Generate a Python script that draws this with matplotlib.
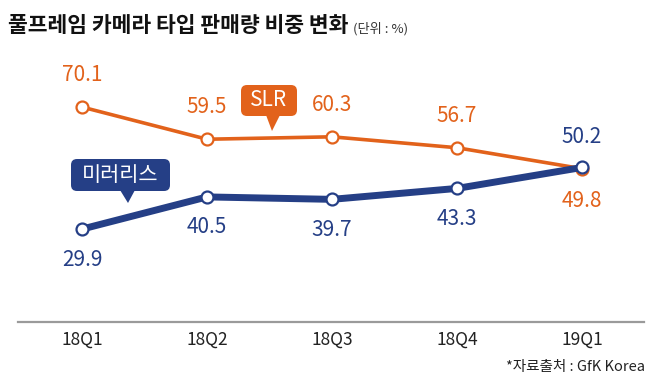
import matplotlib
import matplotlib.pyplot as plt
from matplotlib.patches import FancyBboxPatch, Polygon

matplotlib.use("Agg")

plt.rcParams["font.family"] = ["Noto Sans CJK KR", "DejaVu Sans"]

QUARTERS = ["18Q1", "18Q2", "18Q3", "18Q4", "19Q1"]
SLR = [70.1, 59.5, 60.3, 56.7, 49.8]
MIRRORLESS = [29.9, 40.5, 39.7, 43.3, 50.2]
# label above (+1) or below (-1) the point
SLR_POS = [1, 1, 1, 1, -1]
MIRRORLESS_POS = [-1, -1, -1, -1, 1]

ORANGE = "#E2621B"
NAVY = "#253F86"

W, H, DPI = 652, 388, 100
fig = plt.figure(figsize=(W / DPI, H / DPI), dpi=DPI)

# axes: x from px 18 to 644, y from px 322 (bottom) to 60
ax = fig.add_axes([18 / W, 1 - 322 / H, (644 - 18) / W, (322 - 60) / H])
x = list(range(len(QUARTERS)))
ax.set_xlim(-64 / 125, 4 + 62 / 125)
ax.set_ylim(-0.7, 85.6)

ax.plot(x, SLR, color=ORANGE, lw=2.6, marker="o", ms=8.6, mfc="white",
        mec=ORANGE, mew=1.6, zorder=3, solid_capstyle="round")
ax.plot(x, MIRRORLESS, color=NAVY, lw=5.0, marker="o", ms=8.6, mfc="white",
        mec=NAVY, mew=1.6, zorder=4, solid_capstyle="round")

for xi, v, p in zip(x, SLR, SLR_POS):
    ax.annotate(f"{v:.1f}", (xi, v), xytext=(0, 23 * p), textcoords="offset points",
                ha="center", va="center", fontsize=15, color=ORANGE)
for xi, v, p in zip(x, MIRRORLESS, MIRRORLESS_POS):
    ax.annotate(f"{v:.1f}", (xi, v), xytext=(0, 22 * p), textcoords="offset points",
                ha="center", va="center", fontsize=15, color=NAVY)

for s in ["top", "right", "left"]:
    ax.spines[s].set_visible(False)
ax.spines["bottom"].set_color("#9a9a9a")
ax.spines["bottom"].set_linewidth(1.6)
ax.set_yticks([])
ax.set_xticks(x)
ax.set_xticklabels(QUARTERS, fontsize=12.5, color="#222222")
ax.tick_params(axis="x", length=0, pad=6)


def callout(x0, y0, x1, y1, tip, base, color, text, size):
    # pixel coords (top-left origin) -> inches
    tr = fig.dpi_scale_trans
    box = FancyBboxPatch(((x0) / DPI, (H - y1) / DPI), (x1 - x0) / DPI, (y1 - y0) / DPI,
                         boxstyle="round,pad=0,rounding_size=0.06", transform=tr,
                         facecolor=color, edgecolor="none", zorder=5)
    fig.add_artist(box)
    tri = Polygon([(base[0] / DPI, (H - y1 + 1) / DPI), (base[1] / DPI, (H - y1 + 1) / DPI),
                   (tip[0] / DPI, (H - tip[1]) / DPI)], closed=True, transform=tr,
                  facecolor=color, edgecolor="none", zorder=5)
    fig.add_artist(tri)
    fig.text((x0 + x1) / 2 / W, 1 - (y0 + y1) / 2 / H, text, ha="center", va="center",
             color="white", fontsize=size, fontweight="medium", zorder=6)


callout(241, 85, 297, 116, (272, 131), (266, 280), ORANGE, "SLR", 15)
callout(71, 159, 170, 191, (128, 203), (120, 135), NAVY, "미러리스", 15)

fig.text(8 / W, 1 - 25 / H, "풀프레임 카메라 타입 판매량 비중 변화", ha="left", va="center",
         fontsize=15.5, fontweight="bold", color="#111111")
fig.text(353 / W, 1 - 29 / H, "(단위 : %)", ha="left", va="center",
         fontsize=9.5, color="#333333")
fig.text(645 / W, 1 - 367 / H, "*자료출처 : GfK Korea", ha="right", va="center",
         fontsize=10.5, color="#222222")

fig.savefig("out.png", dpi=DPI)
